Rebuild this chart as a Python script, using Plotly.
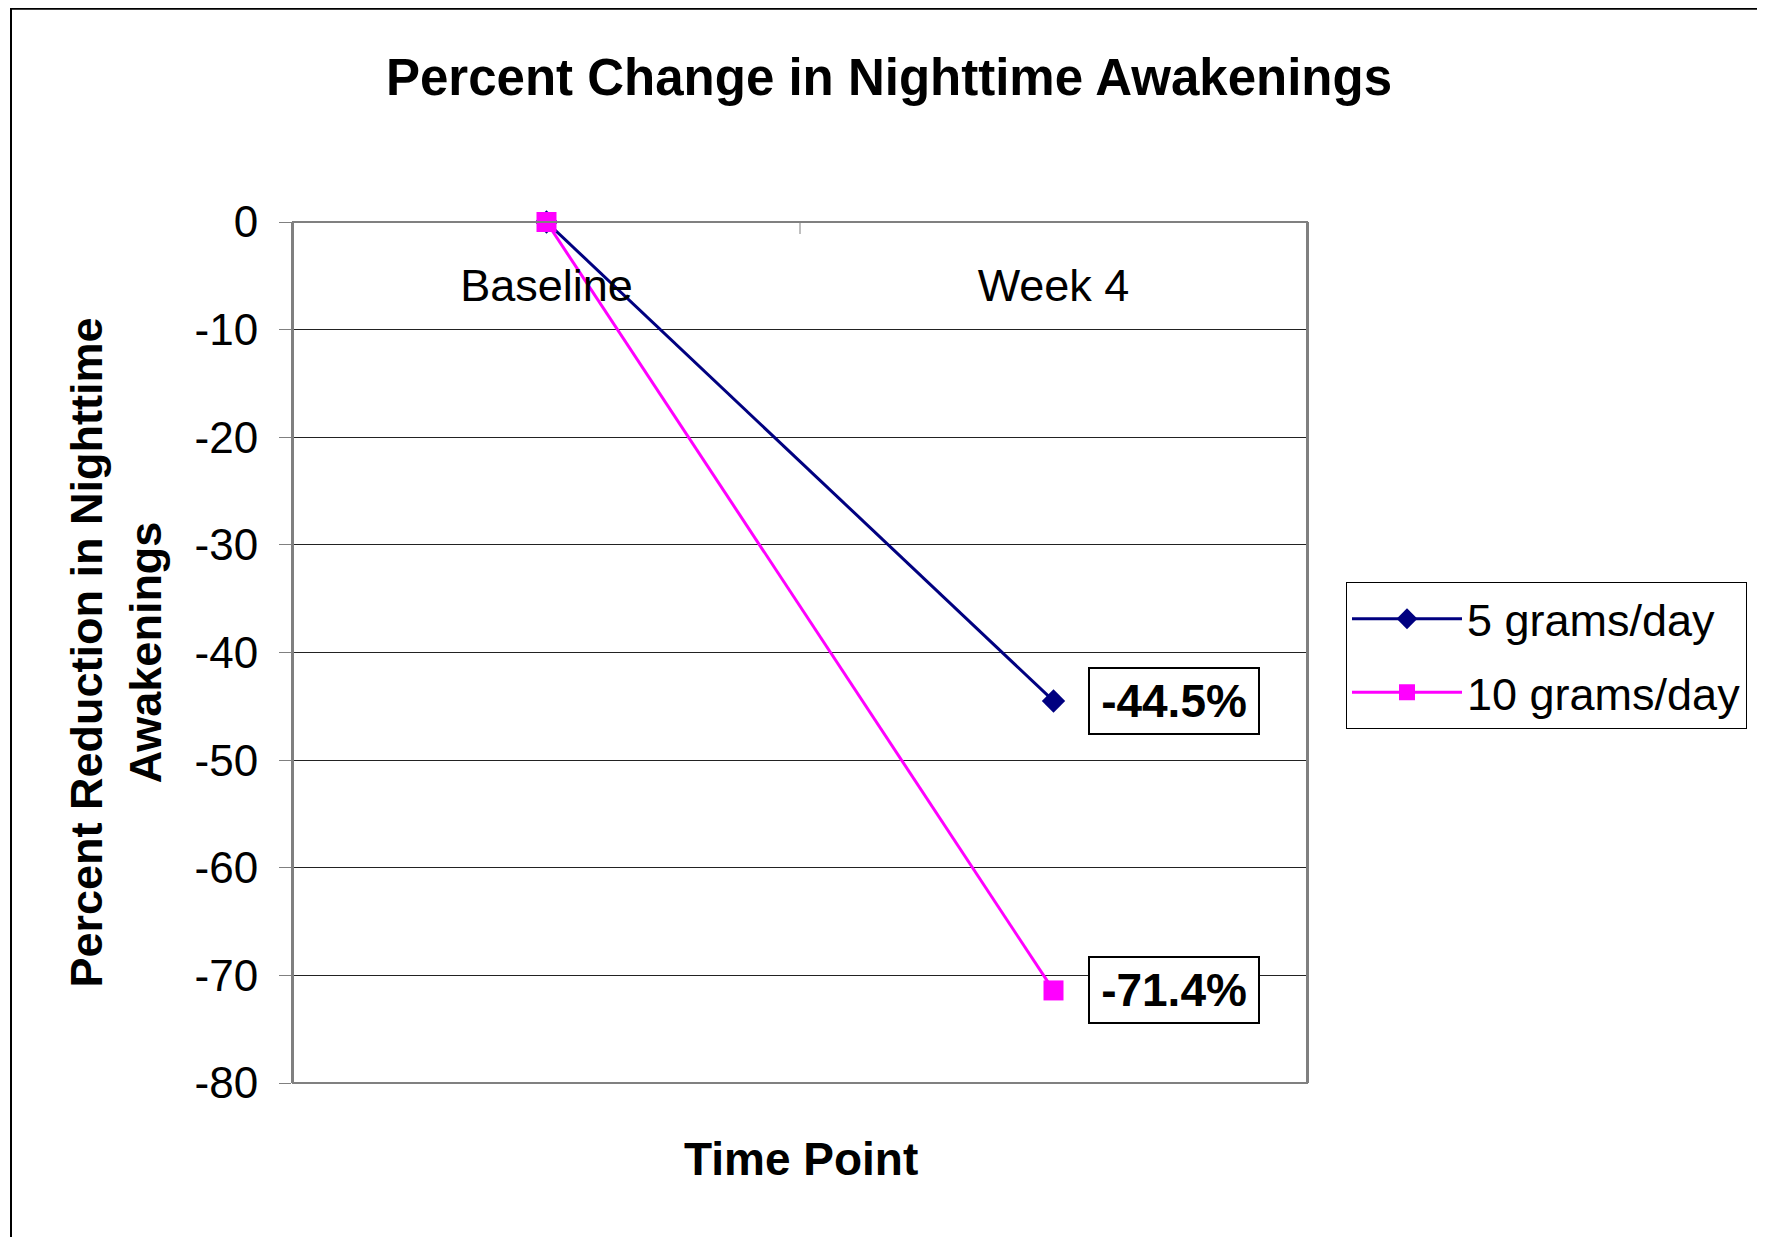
import plotly.graph_objects as go

categories = ["Baseline", "Week 4"]
series_names = ["5 grams/day", "10 grams/day"]
values_5g = [0, -44.5]
values_10g = [0, -71.4]
y_ticks = [0, -10, -20, -30, -40, -50, -60, -70, -80]

FONT = "Liberation Sans, Arial, sans-serif"
NAVY = "#000080"
MAGENTA = "#FF00FF"
FRAME = "#808080"

fig = go.Figure()
fig.add_trace(go.Scatter(
    x=categories, y=values_5g, name=series_names[0], mode="lines+markers",
    line=dict(color=NAVY, width=3), legendgroup="a", cliponaxis=False,
    marker=dict(symbol="diamond", size=18, color=NAVY)))
fig.add_trace(go.Scatter(
    x=categories, y=values_10g, name=series_names[1], mode="lines+markers",
    line=dict(color=MAGENTA, width=3), legendgroup="b", cliponaxis=False,
    marker=dict(symbol="square", size=20, color=MAGENTA)))

# data labels at Week 4
for vals in (values_5g, values_10g):
    fig.add_annotation(
        x=categories[1], y=vals[1], xref="x", yref="y",
        text="<b>%.1f%%</b>" % vals[1], showarrow=False,
        xanchor="left", yanchor="middle", xshift=34,
        width=156, align="center",
        font=dict(family=FONT, size=46, color="black"),
        bordercolor="black", borderwidth=2, borderpad=6, bgcolor="white")

OFF = 8  # page body margin
W, H = 1765 - OFF, 1237 - OFF
L, R, T, B = 293 - OFF, 458, 222 - OFF, 154
pw, ph = W - L - R, H - T - B

# outer chart frame (left and top edges visible)
fig.add_shape(type="rect", xref="paper", yref="paper",
              x0=(11 - OFF - L) / pw, x1=(W + 20 - L) / pw,
              y0=-(B + 20) / ph, y1=(H - B) / ph - 0.001,
              line=dict(color="black", width=2), layer="below")

# plot-area frame
fig.add_shape(type="rect", xref="paper", yref="paper", x0=0, x1=1, y0=0, y1=1,
              line=dict(color=FRAME, width=2), layer="above")
# category boundary tick on the top edge
fig.add_shape(type="line", xref="paper", yref="paper", x0=0.5, x1=0.5,
              y0=1 - 12 / ph, y1=1, line=dict(color=FRAME, width=1))

# x-axis title
fig.add_annotation(x=(801 - OFF - L) / pw, y=-(1159 - OFF - (H - B)) / ph,
                   xref="paper", yref="paper", showarrow=False,
                   xanchor="center", yanchor="middle",
                   text="<b>Time Point</b>",
                   font=dict(family=FONT, size=46, color="black"))

fig.update_layout(
    width=W, height=H,
    margin=dict(l=L, r=R, t=T, b=B),
    paper_bgcolor="white", plot_bgcolor="white",
    font=dict(family=FONT, color="black"),
    title=dict(text="<b>Percent Change in Nighttime Awakenings</b>",
               x=(889 - OFF) / W, xanchor="center",
               y=1 - (77 - OFF) / H, yanchor="middle",
               font=dict(family=FONT, size=51, color="black")),
    showlegend=True,
    legend=dict(x=(1346 - OFF - L) / pw, y=(H - B - (582 - OFF)) / ph,
                xanchor="left", yanchor="top",
                bordercolor="black", borderwidth=1, bgcolor="white",
                font=dict(family=FONT, size=45, color="black"),
                itemwidth=110, tracegroupgap=12),
    xaxis=dict(type="category", range=[-0.5, 1.5], side="top",
               anchor="free", position=1 - 88 / ph,
               ticks="", ticklabelstandoff=0,
               tickfont=dict(family=FONT, size=45, color="black"),
               showline=False, showgrid=False, zeroline=False, fixedrange=True),
    yaxis=dict(range=[-80, 0], tickvals=y_ticks, ticktext=[str(v) for v in y_ticks],
               ticks="outside", ticklen=12, tickcolor=FRAME, tickwidth=1,
               ticklabelstandoff=12,
               tickfont=dict(family=FONT, size=44, color="black"),
               showline=True, linecolor=FRAME, linewidth=2, mirror=True,
               showgrid=True, gridcolor="#222222", gridwidth=1, zeroline=False,
               title=dict(text="<b>Percent Reduction in Nighttime<br>Awakenings</b>",
                          standoff=19,
                          font=dict(family=FONT, size=45, color="black"))),
)

fig.write_html("out.html")
